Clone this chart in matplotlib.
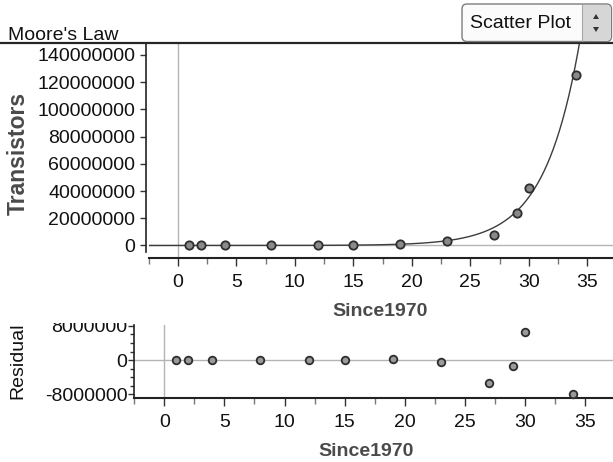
import numpy as np
import matplotlib
matplotlib.use("Agg")
import matplotlib.pyplot as plt
from matplotlib.patches import FancyBboxPatch, Polygon, Rectangle
from matplotlib.transforms import IdentityTransform, Bbox, TransformedBbox
from matplotlib.ticker import MultipleLocator, FixedLocator

plt.rcParams["font.family"] = ["Liberation Sans", "DejaVu Sans"]

# Years since 1970 and transistor counts of Intel processors
since1970 = [1, 2, 4, 8, 12, 15, 19, 23, 27, 29, 30, 34]
transistors = [2300, 3500, 6000, 29000, 134000, 275000, 1200000,
               3100000, 7500000, 24000000, 42000000, 125000000]
# Residuals from the exponential model
residuals = [0, 0, 0, 0, 0, 0, 200000, -400000, -5300000,
             -1300000, 6600000, -7900000]
# Exponential model: Transistors = fit_a * exp(fit_b * Since1970)
fit_a = 1742.0
fit_b = 0.3307

main_yticks = [0, 20000000, 40000000, 60000000, 80000000,
               100000000, 120000000, 140000000]
resid_yticks = [-8000000, 0, 8000000]
xticks = [0, 5, 10, 15, 20, 25, 30, 35]

W, H = 613, 462
DPI = 100
fig = plt.figure(figsize=(W / DPI, H / DPI), dpi=DPI)
fig.patch.set_facecolor("white")


def rect(l, t, r, b):
    """Axes rectangle from pixel edges (top-left origin)."""
    return [l / W, 1 - b / H, (r - l) / W, (b - t) / H]


FS = 14
TXT = "#111111"
LBL = "#4a4a4a"
SPINE = "#222222"
GUIDE = "#b4b4b4"

# ---------------- main scatter panel ----------------
ax = fig.add_axes(rect(148.5, 43, 613, 258))
xlo, xhi = -2.5, 37.2
ax.set_xlim(xlo, xhi)
ax.set_ylim(-9200000, 148800000)

ax.axvline(0, color=GUIDE, lw=1.0, zorder=1)
ax.axhline(0, color=GUIDE, lw=1.0, zorder=1)

xx = np.linspace(xlo, xhi, 600)
ax.plot(xx, fit_a * np.exp(fit_b * xx), color="#3c3c3c", lw=1.0, zorder=2)
ax.scatter(since1970, transistors, s=36, facecolor="#8a8a8a",
           edgecolor="#2e2e2e", linewidth=1.3, zorder=3, clip_on=False)

for s in ["right", "top"]:
    ax.spines[s].set_visible(False)
ax.spines["left"].set_color(SPINE)
ax.spines["bottom"].set_color(SPINE)
ax.spines["left"].set_linewidth(1.2)
ax.spines["bottom"].set_linewidth(1.5)
ax.spines["left"].set_position(("outward", 1.5))
ax.spines["left"].set_bounds(-4500000, 148800000)

ax.xaxis.set_major_locator(FixedLocator(xticks))
ax.xaxis.set_minor_locator(MultipleLocator(2.5))
ax.set_yticks(main_yticks)
ax.set_yticklabels([str(v) for v in main_yticks])
ax.set_xticklabels([str(v) for v in xticks])
ax.tick_params(axis="x", which="major", direction="out", length=5.5,
               width=1.0, color="#333333", pad=6, labelsize=FS, labelcolor=TXT)
ax.tick_params(axis="x", which="minor", direction="out", length=4,
               width=1.0, color="#777777")
ax.tick_params(axis="y", which="major", direction="out", length=4,
               width=1.0, color="#333333", pad=4, labelsize=FS, labelcolor=TXT)
ax.set_facecolor("none")

# ---------------- residual panel ----------------
rx = fig.add_axes(rect(134.3, 325, 613, 398.3))
rx.set_xlim(-2.5, 37.33)
rx.set_ylim(-8930000, 8200000)
rx.axvline(0, color=GUIDE, lw=1.0, zorder=1)
rx.axhline(0, color=GUIDE, lw=1.0, zorder=1)
rx.scatter(since1970, residuals, s=30, facecolor="#9a9a9a",
           edgecolor="#2e2e2e", linewidth=1.3, zorder=3, clip_on=False)
for s in ["right", "top"]:
    rx.spines[s].set_visible(False)
rx.spines["left"].set_color(SPINE)
rx.spines["bottom"].set_color(SPINE)
rx.spines["left"].set_linewidth(1.2)
rx.spines["bottom"].set_linewidth(1.5)
rx.xaxis.set_major_locator(FixedLocator(xticks))
rx.xaxis.set_minor_locator(MultipleLocator(2.5))
rx.set_xticklabels([str(v) for v in xticks])
rx.set_yticks(resid_yticks)
rx.set_yticklabels([str(v) for v in resid_yticks])
rx.yaxis.set_minor_locator(MultipleLocator(2000000))
rx.tick_params(axis="x", which="major", direction="out", length=5.5,
               width=1.0, color="#333333", pad=6, labelsize=FS, labelcolor=TXT)
rx.tick_params(axis="x", which="minor", direction="out", length=4,
               width=1.0, color="#777777")
rx.tick_params(axis="y", which="major", direction="out", length=4,
               width=1.0, color="#333333", pad=1, labelsize=FS, labelcolor=TXT)
rx.tick_params(axis="y", which="minor", direction="out", length=3,
               width=1.0, color="#333333")
rx.set_facecolor("none")

# the top tick label of the residual panel is cut off by the panel above
clip = TransformedBbox(Bbox([[0, 0], [1, 1 - 322.7 / H]]), fig.transFigure)
for lab in rx.get_yticklabels():
    lab.set_clip_on(True)
    lab.set_clip_box(clip)

# ---------------- titles and axis labels ----------------
fig.text(8 / W, 1 - 40 / H, "Moore's Law", fontsize=FS, color=TXT,
         va="baseline", ha="left")
fig.text(18 / W, 1 - 153 / H, "Transistors", fontsize=16.5, color=LBL,
         fontweight="bold", rotation=90, ha="center", va="center")
fig.text(380.5 / W, 1 - 311 / H, "Since1970", fontsize=FS, color=LBL,
         fontweight="bold", ha="center", va="center")
fig.text(18.3 / W, 1 - 361 / H, "Residual", fontsize=FS, color=TXT,
         rotation=90, ha="center", va="center")
fig.text(366 / W, 1 - 452 / H, "Since1970", fontsize=FS, color=LBL,
         fontweight="bold", ha="center", va="center")

# panel separator line
fig.add_artist(plt.Line2D([0, 1], [1 - 43 / H, 1 - 43 / H],
                          transform=fig.transFigure, color="#262626", lw=1.6))

# ---------------- plot-type selector ----------------
ident = IdentityTransform()


def dy(y):
    return H - y


box = FancyBboxPatch((462, dy(41.5)), 149.5, 37.5,
                     boxstyle="round,pad=0,rounding_size=5",
                     transform=ident, facecolor="#fbfbfb",
                     edgecolor="#7c7c7c", lw=1.0, zorder=10)
fig.add_artist(box)
fig.add_artist(FancyBboxPatch((582, dy(40.5)), 28.5, 35.5,
                              boxstyle="round,pad=0,rounding_size=4",
                              transform=ident, facecolor="#d6d6d6",
                              edgecolor="none", zorder=11))
fig.add_artist(Rectangle((582, dy(40.5)), 10, 35.5, transform=ident,
                         facecolor="#d6d6d6", edgecolor="none", zorder=11))
fig.add_artist(plt.Line2D([582, 582], [dy(40.5), dy(5)], transform=ident,
                          color="#a8a8a8", lw=0.8, zorder=12))
ax_c = 596
fig.add_artist(Polygon([[ax_c - 3, dy(19)], [ax_c + 3, dy(19)], [ax_c, dy(14)]],
                       closed=True, transform=ident, facecolor="#333333",
                       edgecolor="none", zorder=12))
fig.add_artist(Polygon([[ax_c - 3, dy(27)], [ax_c + 3, dy(27)], [ax_c, dy(32)]],
                       closed=True, transform=ident, facecolor="#333333",
                       edgecolor="none", zorder=12))
fig.text(470.5 / W, 1 - 23.5 / H, "Scatter Plot", fontsize=FS, color=TXT,
         ha="left", va="center", zorder=13)

fig.savefig("out.png", dpi=DPI)
